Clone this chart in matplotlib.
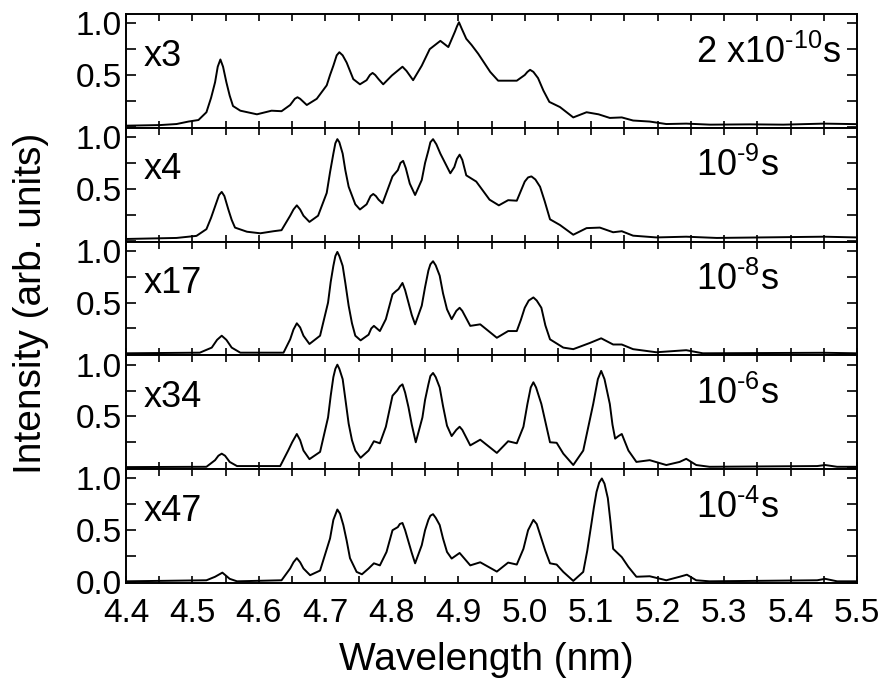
import numpy as np
import matplotlib
matplotlib.use('Agg')
import matplotlib.pyplot as plt
from matplotlib.ticker import MultipleLocator, FormatStrFormatter

plt.rcParams['font.family'] = ['Liberation Sans', 'DejaVu Sans']
plt.rcParams['mathtext.fontset'] = 'custom'
plt.rcParams['mathtext.rm'] = 'Liberation Sans'
plt.rcParams['mathtext.default'] = 'regular'

# Espectros (longitud de onda en nm, intensidad normalizada)
wl1 = [4.40, 4.451, 4.476, 4.494, 4.509, 4.521, 4.528, 4.534, 4.538, 4.542, 4.546, 4.551,
       4.556, 4.561, 4.572, 4.597, 4.619, 4.634, 4.647, 4.654, 4.658, 4.662, 4.672, 4.687,
       4.702, 4.707, 4.712, 4.717, 4.721, 4.726, 4.732, 4.742, 4.752, 4.762, 4.767, 4.771,
       4.775, 4.780, 4.787, 4.800, 4.816, 4.822, 4.832, 4.845, 4.857, 4.873, 4.885, 4.895,
       4.898, 4.901, 4.905, 4.912, 4.920, 4.930, 4.948, 4.960, 4.975, 4.988, 5.000, 5.004,
       5.008, 5.013, 5.020, 5.028, 5.037, 5.053, 5.073, 5.093, 5.111, 5.128, 5.146, 5.163,
       5.188, 5.213, 5.243, 5.279, 5.339, 5.389, 5.450, 5.500]
in1 = [0.01, 0.016, 0.026, 0.05, 0.065, 0.14, 0.28, 0.43, 0.58, 0.65, 0.58, 0.43,
       0.30, 0.20, 0.155, 0.12, 0.155, 0.15, 0.21, 0.27, 0.285, 0.27, 0.21, 0.27,
       0.40, 0.50, 0.59, 0.69, 0.72, 0.69, 0.62, 0.46, 0.41, 0.45, 0.50, 0.52,
       0.50, 0.46, 0.41, 0.495, 0.58, 0.54, 0.45, 0.59, 0.75, 0.83, 0.77, 0.92,
       0.97, 1.01, 0.95, 0.85, 0.79, 0.705, 0.53, 0.445, 0.445, 0.445, 0.50, 0.53,
       0.55, 0.53, 0.47, 0.35, 0.24, 0.19, 0.09, 0.14, 0.12, 0.085, 0.09, 0.06,
       0.05, 0.026, 0.03, 0.02, 0.023, 0.02, 0.03, 0.025]

wl2 = [4.40, 4.476, 4.506, 4.521, 4.528, 4.534, 4.540, 4.544, 4.548, 4.554, 4.559, 4.564,
       4.582, 4.602, 4.622, 4.634, 4.647, 4.652, 4.657, 4.662, 4.667, 4.676, 4.689, 4.702,
       4.707, 4.712, 4.715, 4.718, 4.721, 4.726, 4.730, 4.735, 4.745, 4.752, 4.762, 4.768,
       4.772, 4.776, 4.780, 4.786, 4.801, 4.809, 4.813, 4.817, 4.821, 4.827, 4.835, 4.845,
       4.850, 4.855, 4.858, 4.862, 4.867, 4.873, 4.888, 4.894, 4.898, 4.902, 4.906, 4.912,
       4.927, 4.947, 4.961, 4.975, 4.988, 5.000, 5.005, 5.010, 5.016, 5.023, 5.030, 5.038,
       5.053, 5.073, 5.093, 5.113, 5.133, 5.146, 5.163, 5.198, 5.243, 5.289, 5.450, 5.500]
in2 = [0.015, 0.025, 0.045, 0.11, 0.22, 0.33, 0.44, 0.47, 0.43, 0.30, 0.20, 0.125,
       0.085, 0.07, 0.09, 0.10, 0.24, 0.30, 0.34, 0.30, 0.24, 0.18, 0.24, 0.46,
       0.66, 0.84, 0.94, 0.98, 0.95, 0.84, 0.68, 0.52, 0.35, 0.30, 0.35, 0.43,
       0.45, 0.43, 0.395, 0.36, 0.62, 0.68, 0.75, 0.77, 0.70, 0.55, 0.44, 0.585,
       0.75, 0.87, 0.95, 0.98, 0.93, 0.84, 0.65, 0.71, 0.79, 0.83, 0.78, 0.63,
       0.57, 0.395, 0.34, 0.39, 0.385, 0.57, 0.61, 0.62, 0.59, 0.52, 0.38, 0.205,
       0.15, 0.056, 0.12, 0.125, 0.08, 0.09, 0.047, 0.03, 0.037, 0.025, 0.037, 0.03]

wl3 = [4.40, 4.511, 4.529, 4.537, 4.544, 4.551, 4.559, 4.572, 4.637, 4.647, 4.652, 4.657,
       4.662, 4.667, 4.676, 4.692, 4.704, 4.708, 4.712, 4.715, 4.718, 4.721, 4.726, 4.730,
       4.735, 4.740, 4.745, 4.753, 4.765, 4.769, 4.773, 4.782, 4.791, 4.801, 4.806, 4.810,
       4.816, 4.820, 4.825, 4.830, 4.835, 4.845, 4.850, 4.855, 4.858, 4.862, 4.866, 4.872,
       4.877, 4.883, 4.890, 4.897, 4.902, 4.906, 4.918, 4.933, 4.958, 4.975, 4.988, 4.994,
       5.000, 5.006, 5.013, 5.018, 5.025, 5.031, 5.038, 5.058, 5.073, 5.098, 5.115, 5.133,
       5.146, 5.163, 5.198, 5.243, 5.268, 5.450, 5.500]
in3 = [0.01, 0.016, 0.065, 0.14, 0.18, 0.14, 0.065, 0.016, 0.016, 0.145, 0.24, 0.30,
       0.26, 0.18, 0.10, 0.18, 0.50, 0.70, 0.855, 0.95, 0.99, 0.95, 0.855, 0.69,
       0.47, 0.30, 0.18, 0.135, 0.19, 0.25, 0.275, 0.225, 0.34, 0.58, 0.61, 0.63,
       0.69, 0.62, 0.50, 0.38, 0.29, 0.47, 0.65, 0.81, 0.87, 0.90, 0.86, 0.76,
       0.59, 0.435, 0.34, 0.42, 0.45, 0.42, 0.275, 0.29, 0.16, 0.225, 0.225, 0.33,
       0.45, 0.52, 0.55, 0.52, 0.45, 0.28, 0.145, 0.065, 0.05, 0.11, 0.155, 0.095,
       0.095, 0.05, 0.02, 0.04, 0.01, 0.015, 0.01]

wl4 = [4.40, 4.521, 4.534, 4.539, 4.544, 4.549, 4.556, 4.567, 4.632, 4.644, 4.650, 4.657,
       4.662, 4.667, 4.676, 4.692, 4.704, 4.708, 4.712, 4.715, 4.718, 4.721, 4.726, 4.730,
       4.735, 4.740, 4.745, 4.753, 4.765, 4.773, 4.782, 4.791, 4.801, 4.808, 4.812, 4.816,
       4.820, 4.825, 4.830, 4.836, 4.846, 4.850, 4.855, 4.858, 4.862, 4.866, 4.872, 4.877,
       4.883, 4.890, 4.897, 4.902, 4.906, 4.918, 4.933, 4.958, 4.975, 4.988, 4.998, 5.004,
       5.009, 5.013, 5.017, 5.020, 5.025, 5.038, 5.048, 5.058, 5.073, 5.088, 5.095, 5.103,
       5.110, 5.115, 5.120, 5.128, 5.132, 5.136, 5.141, 5.146, 5.156, 5.168, 5.188, 5.213,
       5.233, 5.243, 5.258, 5.278, 5.440, 5.452, 5.470, 5.500]
in4 = [0.01, 0.013, 0.077, 0.12, 0.14, 0.12, 0.06, 0.02, 0.02, 0.17, 0.25, 0.33,
       0.27, 0.17, 0.087, 0.157, 0.49, 0.70, 0.88, 0.96, 1.0, 0.96, 0.86, 0.67,
       0.43, 0.27, 0.17, 0.10, 0.17, 0.26, 0.24, 0.40, 0.70, 0.75, 0.79, 0.81,
       0.73, 0.59, 0.42, 0.25, 0.49, 0.66, 0.81, 0.89, 0.92, 0.88, 0.78, 0.60,
       0.41, 0.31, 0.37, 0.40, 0.37, 0.22, 0.275, 0.147, 0.26, 0.24, 0.40, 0.62,
       0.78, 0.83, 0.78, 0.72, 0.62, 0.25, 0.245, 0.14, 0.03, 0.17, 0.38, 0.62,
       0.86, 0.94, 0.86, 0.62, 0.42, 0.285, 0.31, 0.33, 0.17, 0.06, 0.077, 0.03,
       0.06, 0.09, 0.03, 0.013, 0.02, 0.03, 0.013, 0.013]

wl5 = [4.40, 4.521, 4.534, 4.545, 4.556, 4.567, 4.634, 4.647, 4.652, 4.657, 4.662, 4.667,
       4.677, 4.692, 4.707, 4.712, 4.718, 4.722, 4.727, 4.732, 4.737, 4.747, 4.755, 4.765,
       4.773, 4.782, 4.792, 4.801, 4.809, 4.812, 4.816, 4.820, 4.825, 4.830, 4.835, 4.845,
       4.850, 4.855, 4.858, 4.862, 4.866, 4.872, 4.877, 4.883, 4.890, 4.902, 4.918, 4.933,
       4.958, 4.975, 4.988, 4.998, 5.005, 5.013, 5.018, 5.025, 5.031, 5.038, 5.048, 5.058,
       5.073, 5.088, 5.094, 5.100, 5.104, 5.108, 5.112, 5.116, 5.120, 5.125, 5.129, 5.133,
       5.146, 5.156, 5.168, 5.188, 5.213, 5.233, 5.244, 5.258, 5.278, 5.440, 5.452, 5.470,
       5.500]
in5 = [0.006, 0.016, 0.05, 0.09, 0.03, 0.006, 0.016, 0.13, 0.19, 0.23, 0.19, 0.13,
       0.065, 0.11, 0.42, 0.60, 0.70, 0.66, 0.55, 0.40, 0.23, 0.097, 0.074, 0.13,
       0.18, 0.16, 0.29, 0.50, 0.53, 0.56, 0.57, 0.50, 0.39, 0.28, 0.18, 0.355,
       0.50, 0.60, 0.64, 0.655, 0.62, 0.55, 0.42, 0.29, 0.226, 0.28, 0.16, 0.19,
       0.10, 0.187, 0.168, 0.32, 0.50, 0.60, 0.56, 0.42, 0.30, 0.18, 0.168, 0.097,
       0.01, 0.097, 0.30, 0.55, 0.72, 0.87, 0.96, 1.0, 0.95, 0.81, 0.58, 0.32,
       0.24, 0.145, 0.05, 0.055, 0.016, 0.05, 0.07, 0.016, 0.006, 0.016, 0.03, 0.006,
       0.006]

factores = ['x3', 'x4', 'x17', 'x34', 'x47']
tiempos = [r'2 x10$^{\text{-10}}$s', r'10$^{\text{-9}}$s', r'10$^{\text{-8}}$s',
           r'10$^{\text{-6}}$s', r'10$^{\text{-4}}$s']
espectros = [(wl1, in1), (wl2, in2), (wl3, in3), (wl4, in4), (wl5, in5)]

fig, axes = plt.subplots(5, 1, figsize=(8.85, 6.98), dpi=100, sharex=True)
fig.subplots_adjust(left=0.1424, right=0.9684, top=0.98, bottom=0.1648, hspace=0)

for i, ax in enumerate(axes):
    wl, inten = espectros[i]
    orden = np.argsort(wl)
    ax.plot(np.array(wl)[orden], np.array(inten)[orden], color='black', lw=1.4,
            solid_joinstyle='round')
    ax.set_xlim(4.4, 5.5)
    ax.set_ylim(-0.01, 1.09)
    ax.xaxis.set_major_locator(MultipleLocator(0.1))
    ax.xaxis.set_minor_locator(MultipleLocator(0.05))
    if i == len(axes) - 1:
        ax.set_yticks([0.0, 0.5, 1.0])
    else:
        ax.set_yticks([0.5, 1.0])
    ax.yaxis.set_minor_locator(MultipleLocator(0.25))
    ax.yaxis.set_major_formatter(FormatStrFormatter('%.1f'))
    ax.tick_params(axis='both', which='both', direction='in', top=True, right=True,
                   width=1.2, labelsize=24)
    ax.tick_params(axis='x', which='both', length=5, pad=11)
    ax.tick_params(axis='y', which='both', length=7, pad=3)
    for sp in ax.spines.values():
        sp.set_linewidth(1.4)
    ax.text(4.426, 0.59, factores[i], fontsize=26, ha='left', va='baseline')
    ax.text(5.257, 0.62, tiempos[i], fontsize=26, ha='left', va='baseline')

axes[-1].xaxis.set_major_formatter(FormatStrFormatter('%.1f'))

fig.text(0.55, 0.055, 'Wavelength (nm)', fontsize=28, ha='center', va='center')
fig.text(0.035, 0.565, 'Intensity (arb. units)', fontsize=28, ha='center', va='center',
         rotation=90)

fig.savefig('out.png', dpi=100)
